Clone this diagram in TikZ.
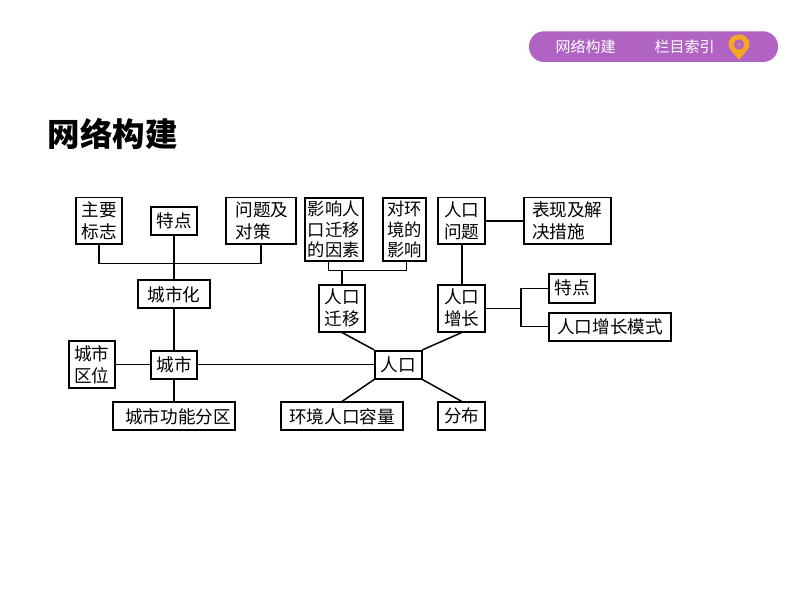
\documentclass[tikz,border=0pt]{standalone}
\usepackage{fontspec}
\setmainfont{Noto Sans CJK SC}
\definecolor{pillc}{HTML}{B163C4}
\definecolor{pinc}{HTML}{F5A623}
\tikzset{
  box/.style={draw=black,line width=1.7pt,fill=white,inner sep=0pt,align=left,font=\fontsize{17.6}{22}\selectfont},
  tall/.style={box,font=\fontsize{17.3}{20.5}\selectfont},
  link/.style={draw=black,line width=1.5pt},
  trunk/.style={draw=black,line width=2pt},
  pilltext/.style={text=white,inner sep=0pt,font=\fontsize{15}{18}\selectfont},
  title/.style={inner sep=0pt,anchor=west,font=\fontsize{32.5}{36}\selectfont\bfseries},
}
\begin{document}
\begin{tikzpicture}[x=1pt,y=-1pt]
\useasboundingbox (0,0) rectangle (794,593);
\fill[white] (0,0) rectangle (794,593);
% header pill
\fill[pillc,rounded corners=15pt] (529,31.3) rectangle (778,62);
\node[pilltext] (navA) at (585.5,46.5) {网络构建};
\node[pilltext] (navB) at (684.5,46.5) {栏目索引};
\fill[pinc] (739,60) .. controls (735,54) and (728.5,50) .. (728.5,44.5)
  .. controls (728.5,38.5) and (733,34.5) .. (739,34.5)
  .. controls (745,34.5) and (749.5,38.5) .. (749.5,44.5)
  .. controls (749.5,50) and (743,54) .. (739,60) -- cycle;
\fill[pillc] (739,44.5) circle (5.2pt);
\fill[pinc!70!pillc] (739,44.5) circle (1.5pt);
% title
\node[title] (ttl) at (47.5,134) {网络构建};
% boxes
\node[box,minimum width=46.6pt,minimum height=46.3pt] (zy) at (99,220.8) {主要\\标志};
\node[box,minimum width=46.6pt,minimum height=28pt] (td) at (174,220.7) {特点};
\node[box,minimum width=69.7pt,minimum height=46.3pt] (wt) at (260.8,220.8) {\hspace*{2pt}问题及\\\hspace*{2pt}对策};
\node[tall,minimum width=58pt,minimum height=63.6pt] (yx) at (333.7,229.5) {影响人\\口迁移\\的因素};
\node[tall,minimum width=42.7pt,minimum height=63.6pt] (dh) at (404.6,229.5) {对环\\境的\\影响};
\node[box,minimum width=47pt,minimum height=46.3pt] (wentI) at (461.8,220.8) {人口\\问题};
\node[box,minimum width=87.3pt,minimum height=46.3pt] (bx) at (567.3,220.8) {表现及解\\决措施};
\node[box,minimum width=72pt,minimum height=28pt] (chh) at (174,294.3) {城市化};
\node[box,minimum width=46.6pt,minimum height=46.7pt] (qy) at (342,308.3) {人口\\迁移};
\node[box,minimum width=47pt,minimum height=46.7pt] (zz) at (461.8,308.3) {人口\\增长};
\node[box,minimum width=46.6pt,minimum height=28.7pt] (te) at (572,288.3) {特点};
\node[box,minimum width=122.6pt,minimum height=28pt] (ms) at (610,326.7) {人口增长模式};
\node[box,minimum width=46pt,minimum height=47.6pt] (qw) at (91.7,364.5) {城市\\区位};
\node[box,minimum width=46.6pt,minimum height=28pt] (cs) at (174,364.7) {城市};
\node[box,minimum width=46.7pt,minimum height=28pt] (rk) at (398.3,364.7) {人口};
\node[box,minimum width=122.6pt,minimum height=28pt] (gn) at (174,416.3) {\hspace*{8pt}城市功能分区};
\node[box,minimum width=122.6pt,minimum height=28pt] (hj) at (342,416.3) {环境人口容量};
\node[box,minimum width=47pt,minimum height=28pt] (fb) at (461.8,416.3) {分布};
% free junctions
\coordinate (busA) at (174,263.5);
\coordinate (busB) at (342,270.7);
\coordinate (busL) at (328.7,270.7);
\coordinate (busR) at (406.7,270.7);
\coordinate (jn) at (521,308.3);
% connectors
\draw[link] (zy.south) |- (busA) -| (wt.south);
\draw[trunk] (td.south) -- (chh.north);
\draw[trunk] (chh.south) -- (cs.north);
\draw[trunk] (cs.south) -- (gn.north);
\draw[link] (qw.east |- cs.west) -- (cs.west);
\draw[link] (cs.east) -- (rk.west);
\draw[link] (yx.south -| busL) -- (busL) -- (busR) -- (dh.south -| busR);
\draw[link] (qy.north) -- (busB);
\draw[link] (qy.south) -- (rk.north west);
\draw[link] (rk.south west) -- (hj.north);
\draw[link] (rk.north east) -- (zz.south);
\draw[link] (rk.south east) -- (fb.north);
\draw[link] (zz.north) -- (wentI.south);
\draw[link] (wentI.east) -- (bx.west);
\draw[link] (zz.east) -- (jn);
\draw[link] (te.west) -| (jn) |- (ms.west);
\end{tikzpicture}
\end{document}
